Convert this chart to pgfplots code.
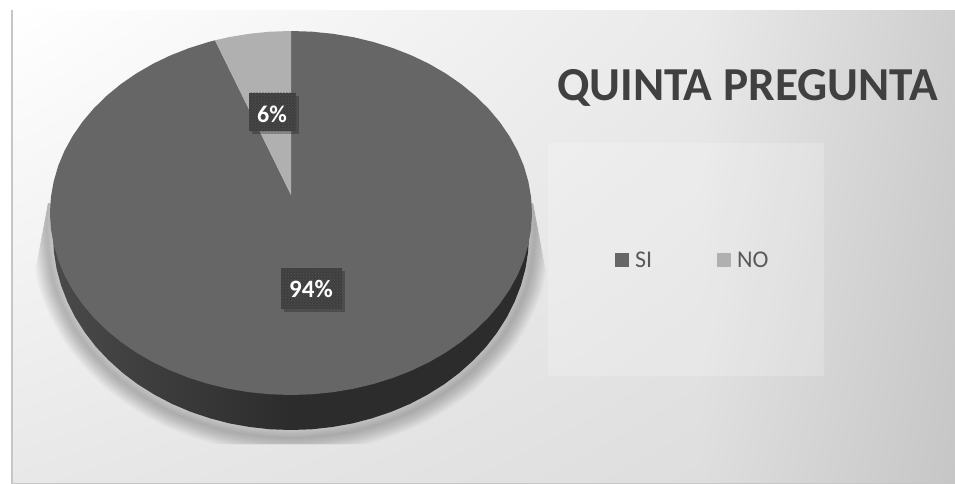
\documentclass[border=0pt]{standalone}
\usepackage{fontspec}
\setmainfont{Carlito}
\usepackage{pgfplots}
\pgfplotsset{compat=1.18}
\usetikzlibrary{patterns,shadings}
\definecolor{siC}{HTML}{666666}
\definecolor{noC}{HTML}{B0B0B0}
\definecolor{sideA}{HTML}{4A4A4A}
\definecolor{sideB}{HTML}{2C2C2C}
\definecolor{bgMT}{HTML}{EAEAEA}
\definecolor{bgMB}{HTML}{DEDEDE}
\definecolor{bgUR}{HTML}{CECECE}
\definecolor{bgLL}{HTML}{E8E8E8}
\definecolor{bgLR}{HTML}{C6C6C6}
\definecolor{boxC}{HTML}{3E3E3E}
\definecolor{dotC}{HTML}{5A5A5A}
\definecolor{titleC}{HTML}{404040}
\definecolor{legC}{HTML}{595959}
\newcommand{\sh}[1]{\draw[black,opacity=0.015,line width=#1bp,line join=round] plot[smooth] coordinates {(axis cs:533,200) (axis cs:535,235) (axis cs:526.7,287.5) (axis cs:502.3,336.5) (axis cs:463.5,378.5) (axis cs:413,410.8) (axis cs:354.2,431.1) (axis cs:291,438) (axis cs:227.8,431.1) (axis cs:169,410.8) (axis cs:118.5,378.5) (axis cs:79.7,336.5) (axis cs:55.3,287.5) (axis cs:47,235) (axis cs:49,200)};}
\begin{document}
\begin{tikzpicture}
\begin{axis}[
  hide axis, scale only axis, width=955bp, height=484bp,
  xmin=0, xmax=955, ymin=0, ymax=484, y dir=reverse,
  legend style={at={(axis cs:615,260)}, anchor=west, draw=none, fill=none,
    legend columns=2, font=\fontsize{24bp}{26bp}\selectfont\color{legC},
    /tikz/every even column/.append style={column sep=63bp},
    inner sep=0pt, outer sep=0pt},
  legend image code/.code={\fill[#1] (0bp,-7bp) rectangle (14bp,7bp);},
]
% page and chart area
\fill[white] (axis cs:0,0) rectangle (axis cs:955,484);
\fill[gray!45] (axis cs:11,10) rectangle (axis cs:955,484);
\shade[upper left=white, upper right=bgMT, lower left=bgLL, lower right=bgMB]
  (axis cs:13,11) rectangle (axis cs:700.5,482);
\shade[upper left=bgMT, upper right=bgUR, lower left=bgMB, lower right=bgLR]
  (axis cs:700,11) rectangle (axis cs:955,482);
% legend area
\fill[white,opacity=0.2] (axis cs:548,143) rectangle (axis cs:824,376);
% shadow of the pie
\begin{scope}
\clip (axis cs:48,203) -- (axis cs:33,283) -- (axis cs:30,444) -- (axis cs:555,444) -- (axis cs:548,283) -- (axis cs:533,203) -- cycle;
\sh{2}\sh{4}\sh{6}\sh{8}\sh{10}\sh{12}\sh{14}\sh{16}\sh{18}\sh{20}\sh{22}\sh{24}\sh{26}\sh{28}\sh{30}\sh{32}
\end{scope}
% side of the pie
\addplot[forget plot, draw=none, left color=sideA, right color=sideB, middle color=sideB] coordinates {
(532,213)(529,235)(528.1,252)(525.4,268.9)(520.9,285.5)(514.6,301.7)(506.7,317.4)(497.1,332.5)(486,346.9)(473.3,360.3)(459.3,372.9)(444,384.4)(427.5,394.7)(410,403.9)(391.6,411.7)(372.4,418.2)(352.6,423.4)(332.3,427)(311.7,429.3)(291,430)(270.3,429.3)(249.7,427)(229.4,423.4)(209.6,418.2)(190.4,411.7)(172,403.9)(154.5,394.7)(138,384.4)(122.7,372.9)(108.7,360.3)(96,346.9)(84.9,332.5)(75.3,317.4)(67.4,301.7)(61.1,285.5)(56.6,268.9)(53.9,252)(53,235)(50,213)
};
% SI, 94%
\addplot[draw=none, fill=siC] coordinates {
(291,31)(312,31.7)(332.8,33.8)(353.4,37.2)(373.4,42)(392.9,48.1)(411.5,55.4)(429.2,63.9)(445.9,73.6)(461.4,84.3)(475.6,96)(488.4,108.6)(499.7,122)(509.4,136.1)(517.5,150.8)(523.8,165.9)(528.3,181.4)(531.1,197.1)(532,213)
(531.1,228.9)(528.3,244.6)(523.8,260.1)(517.5,275.2)(509.4,289.9)(499.7,304)(488.4,317.4)(475.6,330)(461.4,341.7)(445.9,352.4)(429.2,362.1)(411.5,370.6)(392.9,377.9)(373.4,384)(353.4,388.8)(332.8,392.2)(312,394.3)(291,395)
(270,394.3)(249.2,392.2)(228.6,388.8)(208.6,384)(189.1,377.9)(170.5,370.6)(152.8,362.1)(136.1,352.4)(120.6,341.7)(106.4,330)(93.6,317.4)(82.3,304)(72.6,289.9)(64.5,275.2)(58.2,260.1)(53.7,244.6)(50.9,228.9)(50,213)
(50.9,197.1)(53.7,181.4)(58.2,165.9)(64.5,150.8)(72.6,136.1)(82.3,122)(93.6,108.6)(106.4,96)(120.6,84.3)(136.1,73.6)(152.8,63.9)(170.5,55.4)(189.1,48.1)(208.6,42)(215,40.3)
(291,195)(291,31)
};
\addlegendentry{\hspace{4bp}SI}
% NO, 6%
\addplot[draw=none, fill=noC] coordinates {
(291,195)(215,40.3)(228.6,37.2)(249.2,33.8)(270,31.7)(291,31)(291,195)
};
\addlegendentry{\hspace{4bp}NO}
% data labels
\fill[black,opacity=0.25] (axis cs:252,96) rectangle (axis cs:299,134);
\fill[boxC] (axis cs:249,93) rectangle (axis cs:296,131);
\fill[pattern=crosshatch dots, pattern color=dotC] (axis cs:249,93) rectangle (axis cs:296,131);
\node[text=white, font=\fontsize{24bp}{26bp}\selectfont\bfseries] at (axis cs:272,114) {6\%};
\fill[black,opacity=0.25] (axis cs:284,271) rectangle (axis cs:345,312);
\fill[boxC] (axis cs:281,268) rectangle (axis cs:342,309);
\fill[pattern=crosshatch dots, pattern color=dotC] (axis cs:281,268) rectangle (axis cs:342,309);
\node[text=white, font=\fontsize{25bp}{27bp}\selectfont\bfseries] at (axis cs:311,289) {94\%};
% title
\node[text=titleC, font=\fontsize{47.3bp}{50bp}\selectfont\bfseries] at (axis cs:747.5,88) {QUINTA PREGUNTA};
\end{axis}
\pgfresetboundingbox
\path[use as bounding box] (0,0) rectangle (955bp,484bp);
\end{tikzpicture}
\end{document}
